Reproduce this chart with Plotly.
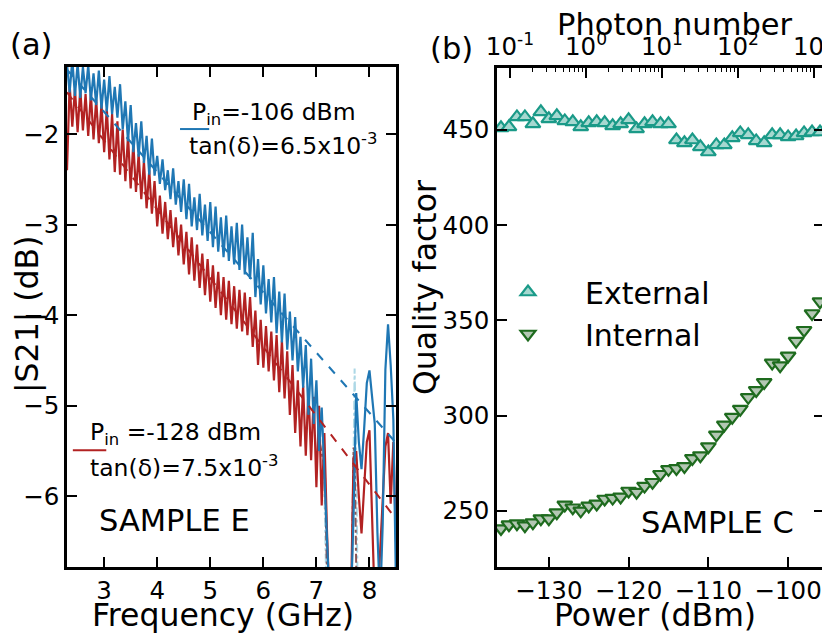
import plotly.graph_objects as go

# ---------------- panel (a): |S21| vs frequency ----------------
freq_ghz = [
    2.30, 2.35, 2.40, 2.45, 2.50, 2.55, 2.60, 2.65, 2.70, 2.75,
    2.80, 2.85, 2.90, 2.95, 3.00, 3.05, 3.10, 3.15, 3.20, 3.25,
    3.30, 3.35, 3.40, 3.45, 3.50, 3.55, 3.60, 3.65, 3.70, 3.75,
    3.80, 3.85, 3.90, 3.95, 4.00, 4.05, 4.10, 4.15, 4.20, 4.25,
    4.30, 4.35, 4.40, 4.45, 4.50, 4.55, 4.60, 4.65, 4.70, 4.75,
    4.80, 4.85, 4.90, 4.95, 5.00, 5.05, 5.10, 5.15, 5.20, 5.25,
    5.30, 5.35, 5.40, 5.45, 5.50, 5.55, 5.60, 5.65, 5.70, 5.75,
    5.80, 5.85, 5.90, 5.95, 6.00, 6.05, 6.10, 6.15, 6.20, 6.25,
    6.30, 6.35, 6.40, 6.45, 6.50, 6.55, 6.60, 6.65, 6.70, 6.75,
    6.80, 6.85, 6.90, 6.95, 7.00, 7.05, 7.10, 7.15, 7.20, 7.25,
    7.30, 7.35, 7.40, 7.45, 7.50, 7.55, 7.60, 7.65, 7.70, 7.75,
    7.80, 7.85, 7.90, 7.95, 8.00, 8.05, 8.10, 8.15, 8.20, 8.25,
    8.30, 8.35, 8.40, 8.45, 8.50,
]
s21_pin_106 = [
    -1.23, -1.54, -1.18, -1.58, -1.22, -1.60, -1.26, -1.55, -1.24, -1.63,
    -1.33, -1.68, -1.30, -1.72, -1.40, -1.75, -1.36, -1.78, -1.48, -1.82,
    -1.45, -1.95, -1.64, -2.08, -1.68, -2.20, -1.88, -2.25, -1.86, -2.32,
    -2.02, -2.45, -2.05, -2.46, -2.24, -2.55, -2.28, -2.62, -2.40, -2.72,
    -2.38, -2.78, -2.52, -2.86, -2.50, -2.94, -2.55, -3.02, -2.70, -3.06,
    -2.66, -3.12, -2.78, -3.18, -2.75, -3.25, -2.80, -3.30, -2.92, -3.36,
    -2.90, -3.40, -3.02, -3.44, -2.98, -3.50, -3.00, -3.55, -3.14, -3.60,
    -3.09, -3.80, -3.38, -3.88, -3.45, -3.98, -3.60, -4.08, -3.58, -4.20,
    -3.74, -4.30, -3.76, -4.38, -3.96, -4.50, -4.02, -4.62, -4.24, -4.80,
    -4.33, -5.10, -4.48, -5.20, -4.72, -5.50, -5.02, -5.75, -6.60, -7.20,
    -7.20, -7.20, -7.20, -7.20, -7.20, -7.20, -7.20, -7.20, -6.20, -4.86,
    -5.40, -5.70, -5.25, -4.75, -4.61, -4.95, -5.20, -6.40, -7.20, -6.30,
    -4.60, -4.10, -4.55, -5.15, -7.00,
]
s21_pin_128 = [
    -2.40, -1.45, -1.92, -1.50, -1.98, -1.50, -1.96, -1.56, -2.02, -1.55,
    -2.06, -1.62, -2.10, -1.66, -2.20, -1.72, -2.28, -1.78, -2.42, -1.86,
    -2.45, -1.95, -2.52, -2.02, -2.60, -2.10, -2.64, -2.22, -2.72, -2.30,
    -2.82, -2.40, -2.88, -2.52, -3.02, -2.68, -3.10, -2.75, -3.16, -2.84,
    -3.25, -2.92, -3.34, -3.00, -3.44, -3.08, -3.55, -3.14, -3.62, -3.22,
    -3.70, -3.32, -3.78, -3.38, -3.85, -3.45, -3.92, -3.52, -4.00, -3.58,
    -4.05, -3.62, -4.10, -3.68, -4.15, -3.72, -4.18, -3.75, -4.22, -3.80,
    -4.35, -3.95, -4.55, -4.05, -4.58, -4.12, -4.62, -4.18, -4.72, -4.22,
    -4.85, -4.28, -4.92, -4.40, -5.10, -4.55, -5.30, -4.72, -5.45, -4.78,
    -5.55, -4.82, -5.60, -4.90, -5.90, -5.00, -6.10, -5.30, -6.40, -7.20,
    -7.20, -7.20, -7.20, -7.20, -7.20, -7.20, -7.20, -7.20, -5.57, -5.50,
    -6.00, -6.41, -5.90, -5.40, -5.27, -6.23, -7.20, -7.20, -6.60, -5.90,
    -5.45, -5.30, -6.08, -5.40, -6.50,
]

# raw traces around the two deep dips (dash-dot)
raw_freq_106 = [7.05, 7.10, 7.14, 7.18, 7.22, 7.66, 7.70, 7.72, 7.75, 7.78]
raw_s21_106 = [-5.05, -5.15, -5.60, -6.80, -7.20, -7.20, -5.60, -4.59, -5.60, -7.20]
raw_freq_128 = [7.06, 7.12, 7.16, 7.20, 7.24, 7.66, 7.70, 7.72, 7.76]
raw_s21_128 = [-5.40, -5.60, -5.70, -6.90, -7.20, -7.20, -5.46, -5.50, -7.20]

# linear loss-tangent fits
fit_freq = [2.3, 8.5]
fit_pin_106 = [-1.29, -5.41]
fit_pin_128 = [-1.54, -6.25]

# ---------------- panel (b): quality factors vs power ----------------
power_dbm = [
    -136, -135, -134, -133, -132, -131, -130, -129, -128, -127,
    -126, -125, -124, -123, -122, -121, -120, -119, -118, -117,
    -116, -115, -114, -113, -112, -111, -110, -109, -108, -107,
    -106, -105, -104, -103, -102, -101, -100, -99, -98, -97, -96,
]
q_external = [
    451.1, 451.6, 456.8, 456.8, 453.2, 459.5, 455.8, 457.4, 454.7, 454.2,
    451.6, 453.7, 454.2, 453.7, 452.1, 453.2, 455.3, 450.5, 453.2, 454.2,
    453.2, 453.2, 444.7, 443.2, 444.7, 441.1, 438.4, 442.1, 442.1, 445.8,
    448.4, 447.4, 444.2, 443.2, 447.4, 447.4, 446.3, 446.8, 448.4, 448.9, 448.9,
]
q_internal = [
    240.7, 242.7, 243.3, 242.2, 243.8, 245.9, 245.9, 249.0, 253.1, 251.6,
    250.0, 252.6, 253.6, 256.2, 256.7, 257.3, 260.4, 259.8, 263.0, 265.0,
    269.2, 271.8, 272.3, 273.3, 277.5, 279.0, 283.7, 289.9, 295.1, 299.2,
    303.4, 309.6, 313.2, 317.4, 327.7, 326.2, 331.3, 339.1, 344.8, 353.6, 359.8,
]
photon_ticks = [0.1, 1, 10, 100, 1000]
photon_labels = ["10<sup>-1</sup>", "10<sup>0</sup>", "10<sup>1</sup>",
                 "10<sup>2</sup>", "10<sup>3</sup>"]
photon_minor = [m * d for d in [0.1, 1, 10, 100] for m in range(2, 10)]

FONT = "DejaVu Sans"
BLUE = "#1f77b4"
RED = "#b22222"
# page body keeps an 8 px margin, so the figure is drawn 8 px in
OFF = 8
W, H = 830 - OFF, 640 - OFF


def px(x):
    return (x - OFF) / W


def py(y):
    return 1 - (y - OFF) / H


fig = go.Figure()

# panel (a)
fig.add_trace(go.Scatter(x=raw_freq_106, y=raw_s21_106, mode="lines",
                         line=dict(color="#add8e6", width=2, dash="dashdot"),
                         showlegend=False))
fig.add_trace(go.Scatter(x=raw_freq_128, y=raw_s21_128, mode="lines",
                         line=dict(color="#8b5555", width=2, dash="dashdot"),
                         showlegend=False))
fig.add_trace(go.Scatter(x=freq_ghz, y=s21_pin_128, mode="lines",
                         line=dict(color=RED, width=2.2), showlegend=False))
fig.add_trace(go.Scatter(x=freq_ghz, y=s21_pin_106, mode="lines",
                         line=dict(color=BLUE, width=2.2), showlegend=False))
fig.add_trace(go.Scatter(x=fit_freq, y=fit_pin_128, mode="lines",
                         line=dict(color=RED, width=2, dash="dash"),
                         showlegend=False))
fig.add_trace(go.Scatter(x=fit_freq, y=fit_pin_106, mode="lines",
                         line=dict(color=BLUE, width=2, dash="dash"),
                         showlegend=False))

# panel (b)
fig.add_trace(go.Scatter(
    x=power_dbm, y=q_external, xaxis="x2", yaxis="y2", mode="markers",
    name="External",
    marker=dict(symbol="triangle-up", size=13, color="#a6d8d0",
                line=dict(color="#1a9a88", width=2.2)),
))
fig.add_trace(go.Scatter(
    x=power_dbm, y=q_internal, xaxis="x2", yaxis="y2", mode="markers",
    name="Internal",
    marker=dict(symbol="triangle-down", size=13, color="#b3c7b3",
                line=dict(color="#1e6b1e", width=2.2)),
))
# empty trace so the photon-number axis gets drawn
fig.add_trace(go.Scatter(x=[], y=[], xaxis="x3", yaxis="y2",
                         showlegend=False, hoverinfo="skip"))

axis_common = dict(
    showline=True, linecolor="black", linewidth=2.5,
    ticks="inside", ticklen=10, tickwidth=2, tickcolor="black",
    showgrid=False, zeroline=False, automargin=False,
    tickfont=dict(size=24.5, color="black", family=FONT),
)

fig.update_layout(
    width=W, height=H,
    margin=dict(l=0, r=0, t=0, b=0, autoexpand=False),
    paper_bgcolor="white", plot_bgcolor="white",
    font=dict(family=FONT, color="black"),
    xaxis=dict(domain=[px(67), px(396)], range=[2.3, 8.5], anchor="y",
               mirror="ticks", tickvals=[3, 4, 5, 6, 7, 8], **axis_common),
    yaxis=dict(domain=[py(567), py(67)], range=[-6.78, -1.26], anchor="x",
               mirror="ticks", tickvals=[-6, -5, -4, -3, -2], **axis_common),
    xaxis2=dict(domain=[px(497), px(824)], range=[-136.5, -95.5], anchor="y2",
                tickvals=[-130, -120, -110, -100], **axis_common),
    yaxis2=dict(domain=[py(567), py(68)], range=[220.5, 482.5], anchor="x2",
                mirror="ticks", tickvals=[250, 300, 350, 400, 450], **axis_common),
    xaxis3=dict(overlaying="x2", anchor="y2", side="top", type="log",
                range=[-1.171, 3.132], tickvals=photon_ticks,
                ticktext=photon_labels, ticklabeloverflow="allow",
                minor=dict(tickvals=photon_minor, ticks="inside", ticklen=4,
                           tickwidth=1, tickcolor="black", showgrid=False),
                **axis_common),
    legend=dict(x=px(471), y=py(266), xanchor="left", yanchor="top",
                itemwidth=104, bgcolor="rgba(0,0,0,0)",
                font=dict(size=30, family=FONT, color="black")),
)

title_font = dict(size=31.5, family=FONT, color="black")
label_font = dict(size=30.5, family=FONT, color="black")
note_font = dict(size=23.5, family=FONT, color="black")
annotations = [
    dict(text="(a)", x=px(8), y=py(45), xanchor="left", font=label_font),
    dict(text="(b)", x=px(428), y=py(48), xanchor="left", font=label_font),
    dict(text="|S21| (dB)", x=px(27), y=py(314), textangle=-90, font=title_font),
    dict(text="Frequency (GHz)", x=px(223), y=py(615), font=title_font),
    dict(text="Quality factor", x=px(425), y=py(288), textangle=-90, font=title_font),
    dict(text="Power (dBm)", x=px(655), y=py(615), font=title_font),
    dict(text="Photon number", x=px(675), y=py(24), font=label_font),
    dict(text="SAMPLE E", x=2.87, y=-6.27, xref="x", yref="y",
         xanchor="left", font=label_font),
    dict(text="SAMPLE C", x=-99, y=243.8, xref="x2", yref="y2",
         xanchor="right", font=label_font),
    dict(text="P<sub>in</sub>=-106 dBm", x=4.62, y=-1.77, xref="x", yref="y",
         xanchor="left", font=note_font),
    dict(text="tan(δ)=6.5x10<sup>-3</sup>", x=4.56, y=-2.12, xref="x", yref="y",
         xanchor="left", font=note_font),
    dict(text="P<sub>in</sub> =-128 dBm", x=2.70, y=-5.31, xref="x", yref="y",
         xanchor="left", font=note_font),
    dict(text="tan(δ)=7.5x10<sup>-3</sup>", x=2.70, y=-5.67, xref="x", yref="y",
         xanchor="left", font=note_font),
]
for a in annotations:
    a.setdefault("xref", "paper")
    a.setdefault("yref", "paper")
    a.setdefault("xanchor", "center")
    a["yanchor"] = "middle"
    a["showarrow"] = False
fig.update_layout(annotations=annotations)

# short line samples next to the panel (a) labels
fig.update_layout(shapes=[
    dict(type="line", xref="x", yref="y", x0=4.43, x1=4.98, y0=-1.945, y1=-1.945,
         line=dict(color=BLUE, width=2)),
    dict(type="line", xref="x", yref="y", x0=2.41, x1=3.04, y0=-5.49, y1=-5.49,
         line=dict(color=RED, width=2)),
])

fig.write_html("out.html")
